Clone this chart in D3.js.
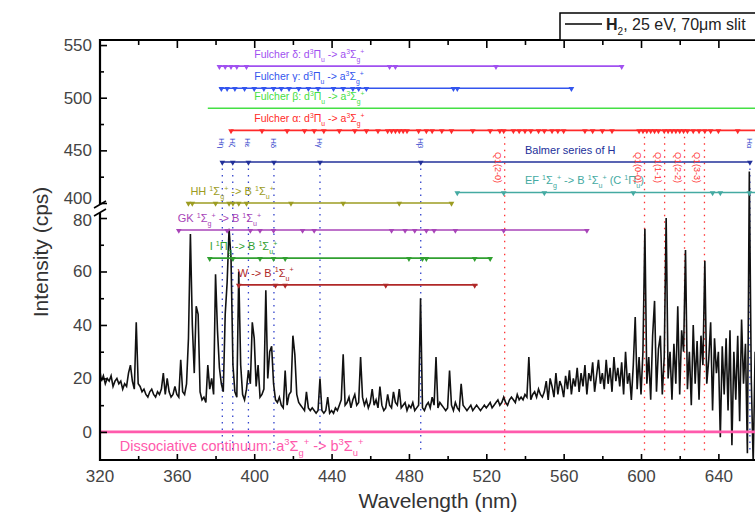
<!DOCTYPE html>
<html><head><meta charset="utf-8">
<script src="https://cdn.jsdelivr.net/npm/d3@7"></script>
<style>
body{margin:0;background:#fff}
svg{display:block}
text{font-family:"Liberation Sans",Arial,sans-serif}
</style></head>
<body><svg id="c" width="755" height="513"></svg>
<script>
// ---------- DATA ----------
const wavelengths = d3.range(320, 661, 1); // nm, 1 nm steps
const intensity = [
 24,19,21,18,20,19,21,17,19,20,   // 320
 18,19,16,18,17,22,25,19,16,41,   // 330
 18,17,15,16,14,13,15,16,14,13,   // 340
 15,14,16,22,14,20,15,13,14,17,   // 350
 14,13,27,15,14,18,35,74,40,22,   // 360
 47,44,15,12,13,11,25,16,20,14,   // 370
 59,38,24,18,15,44,56,76,65,25,   // 380
 15,13,60,25,14,12,16,23,18,41,   // 390
 35,17,25,13,14,16,53,20,30,32,   // 400
 18,12,11,13,10,9,23,10,14,15,    // 410
 36,29,14,11,10,9,8,15,9,8,       // 420
 9,8,7,8,20,8,7,8,13,7,           // 430
 8,7,9,8,10,12,29,10,11,13,       // 440
 9,12,14,10,11,28,13,10,12,9,     // 450
 11,16,10,12,9,17,10,8,9,14,      // 460
 10,9,15,11,10,16,9,10,11,8,      // 470
 10,9,11,8,9,10,50,9,8,10,        // 480
 11,9,13,10,28,9,11,10,9,8,       // 490
 9,23,10,8,11,9,8,18,10,9,        // 500
 8,9,10,8,9,10,9,8,9,10,          // 510
 9,10,11,9,10,11,12,10,11,13,     // 520
 11,10,12,13,12,11,14,12,13,12,   // 530
 14,13,28,12,14,15,13,16,14,13,   // 540
 15,19,12,20,17,13,22,14,19,17,   // 550
 13,21,16,23,14,20,17,24,15,22,   // 560
 17,25,14,22,19,26,15,21,27,18,   // 570
 22,16,27,18,24,15,28,19,24,17,   // 580
 26,14,30,18,22,12,25,43,16,28,   // 590
 14,30,76,18,28,12,36,49,15,31,   // 600
 36,14,28,80,20,30,12,33,18,47,   // 610
 14,38,30,68,16,30,10,40,18,34,   // 620
 12,36,25,64,18,27,41,8,35,22,    // 630
 30,-2,32,14,35,8,38,-5,30,12,    // 640
 36,4,42,18,33,-8,430,20,-12,30,  // 650
 25                               // 660
];

const xMajorTicks = [320,360,400,440,480,520,560,600,640];
const xMinorTicks = [340,380,420,460,500,540,580,620,660];
const yLowTicks = [0,20,40,60,80];
const yLowMinor = [10,30,50,70];
const yUpTicks = [400,450,500,550];
const yUpMinor = [425,475,525];

// band annotation lines
const bandLabels = [
 "Fulcher δ: d^{3}Π_{u} -> a^{3}Σ_{g}^{+}",
 "Fulcher γ: d^{3}Π_{u} -> a^{3}Σ_{g}^{+}",
 "Fulcher β: d^{3}Π_{u} -> a^{3}Σ_{g}^{+}",
 "Fulcher α: d^{3}Π_{u} -> a^{3}Σ_{g}^{+}",
 "Balmer series of H",
 "EF ^{1}Σ_{g}^{+} -> B ^{1}Σ_{u}^{+} (C ^{1}Π_{u})",
 "HH ^{1}Σ_{g}^{+} -> B ^{1}Σ_{u}^{+}",
 "GK ^{1}Σ_{g}^{+} -> B ^{1}Σ_{u}^{+}",
 "I ^{1}Π_{g} -> B ^{1}Σ_{u}^{+}",
 "W -> B ^{1}Σ_{u}^{+}",
 "Dissociative continuum: a^{3}Σ_{g}^{+} -> b^{3}Σ_{u}^{+}"
];
const bandLevel = [530, 509, 490, 469, 439, 410, 400, 75.5, 65, 55, 0];
const bandStart = [381.5, 382, 376, 388, 383.5, 505, 366, 361, 377, 392, 320];
const bandEnd   = [590, 564, 700, 700, 656.3, 700, 502, 572, 522.5, 515.5, 700];
const bandLabelAt = [400, 400, 400, 400, 540, 540, 367, 360.5, 377, 391.5, 330.5];
const bandColors = ["#a050f0","#3355ee","#44e044","#ff2a2a","#22309a","#44aaa2","#9c9c22","#a844b8","#30a030","#b02828","#ff5aac"];
const bandMarkers = [
 [382,385,388,391,396,470,473,525,590],
 [383,386,390,395,400,405,410,414,418,423,428,433,441,446,451,454,458,503,505,564],
 [],
 [388,404,417,426,431,436,444,452,458,464,469,471,473,475,477,479,485,489,492,497,502,513,522,527,529,534,537,540,543,547,550,554,557,560,571,575,580,585,599,601,603,605,607,609,612,614,616,618,620,622,624,627,630,633,636,640,650],
 [383.5,388.9,397.0,410.2,434.0,486.1,656.3],
 [505,529,550,596,637,641,656],
 [366,368,380,387,389,392,396,419,446,475,502],
 [361,386,398,403,410,425,431,471,478,483,489,493,504,529,572],
 [377,389,403,410,416,480,487,489,514,522],
 [392,411,416,468,514],
 []
];

// Balmer lines (vertical blue dotted) and Fulcher-α Q lines (vertical red dotted)
const balmerWl = [383.5, 388.9, 397.0, 410.2, 434.0, 486.1, 656.3];
const balmerNames = ["Hη","Hζ","Hε","Hδ","Hγ","Hβ","Hα"];
const fulcherQWl = [529.5, 601.8, 612.2, 622.5, 632.8];
const fulcherQNames = ["Q1(2-0)","Q1(0-0)","Q1(1-1)","Q1(2-2)","Q1(3-3)"];

// ---------- SCALES ----------
const svg = d3.select("#c");
const L = 100, R = 755, T = 40, B = 460;
const x = d3.scaleLinear().domain([320, 680]).range([99.5, 99.5 + 360 * 1.934]);
const yLo = d3.scaleLinear().domain([-10.5, 81.5]).range([460, 214]);
const yUp = d3.scaleLinear().domain([400, 555]).range([203, 39.8]);
const yMap = v => v > 200 ? yUp(v) : yLo(v);

svg.append("defs").append("clipPath").attr("id","clip")
  .append("rect").attr("x", L).attr("y", T).attr("width", R - L).attr("height", B - T);
const plot = svg.append("g").attr("clip-path","url(#clip)");

// rich text helper: ^{..} superscript, _{..} subscript
function rich(g, str, px, py, size, color) {
  const t = g.append("text").attr("x", px).attr("y", py).attr("font-size", size).attr("fill", color);
  const re = /([_^])\{([^}]*)\}/g;
  let last = 0, m, shift = 0;
  const add = (s, mode) => {
    if (!s) return;
    const target = mode === "sub" ? size * 0.35 : mode === "sup" ? -size * 0.4 : 0;
    const ts = t.append("tspan").text(s).attr("dy", target - shift);
    if (mode) ts.attr("font-size", size * 0.65);
    shift = target;
  };
  while ((m = re.exec(str)) !== null) {
    add(str.slice(last, m.index), null);
    add(m[2], m[1] === "_" ? "sub" : "sup");
    last = re.lastIndex;
  }
  add(str.slice(last), null);
  return t;
}

// ---------- vertical dotted reference lines ----------
plot.selectAll(".bl").data(balmerWl).enter().append("line")
  .attr("x1", d => x(d)).attr("x2", d => x(d))
  .attr("y1", yUp(439)).attr("y2", B - 6)
  .attr("stroke", "#3344cc").attr("stroke-width", 1.3).attr("stroke-dasharray", "1.5,5");
plot.selectAll(".fl").data(fulcherQWl).enter().append("line")
  .attr("x1", d => x(d)).attr("x2", d => x(d))
  .attr("y1", yUp(469)).attr("y2", B - 6)
  .attr("stroke", "#ff3333").attr("stroke-width", 1.3).attr("stroke-dasharray", "1.5,5");

// ---------- spectrum ----------
const line = d3.line().x((d, i) => x(wavelengths[i])).y(d => yMap(d));
plot.append("path").datum(intensity).attr("d", line)
  .attr("fill", "none").attr("stroke", "#111").attr("stroke-width", 1.6).attr("stroke-linejoin", "miter");

// ---------- band lines ----------
bandLabels.forEach((lab, i) => {
  const yy = yMap(bandLevel[i]);
  const c = bandColors[i];
  plot.append("line").attr("x1", x(bandStart[i])).attr("x2", x(bandEnd[i]))
    .attr("y1", yy).attr("y2", yy).attr("stroke", c).attr("stroke-width", i === 10 ? 2.6 : 1.6);
  const tri = d3.symbol().type(d3.symbolTriangle).size(14);
  plot.selectAll(null).data(bandMarkers[i]).enter().append("path")
    .attr("d", tri).attr("transform", d => `translate(${x(d)},${yy + 0.5}) rotate(180)`)
    .attr("fill", c);
  if (i === 10) {
    rich(plot, lab, x(bandLabelAt[i]), yy + 19, 14.5, c);
  } else {
    const fs = i < 4 ? 10.5 : 11;
    rich(plot, lab, x(bandLabelAt[i]), yy - 8, fs, c);
  }
});

// rotated labels
balmerWl.forEach((w, i) => {
  plot.append("text").attr("transform", `translate(${x(w) - 3},${138}) rotate(90)`)
    .attr("font-size", 8).attr("fill", "#3344cc").text(balmerNames[i]);
});
fulcherQWl.forEach((w, i) => {
  plot.append("text").attr("transform", `translate(${x(w) - 10},${152}) rotate(90)`)
    .attr("font-size", 9).attr("fill", "#ff3333").text(fulcherQNames[i]);
});

// ---------- axes ----------
function styleAxis(g) {
  g.select(".domain").remove();
  g.selectAll(".tick line").attr("stroke", "#000").attr("stroke-width", 1.6);
  g.selectAll(".tick text").attr("font-size", 17).attr("fill", "#444")
    .attr("font-family", '"Liberation Sans",Arial,sans-serif');
}
svg.append("g").attr("transform", `translate(0,${B})`)
  .call(d3.axisBottom(x).tickValues(xMajorTicks).tickSize(-6).tickPadding(10).tickFormat(d3.format("d"))).call(styleAxis);
svg.append("g").attr("transform", `translate(0,${B})`)
  .call(d3.axisBottom(x).tickValues(xMinorTicks).tickSize(-4).tickFormat("")).call(styleAxis);
svg.append("g").attr("transform", `translate(0,${T})`)
  .call(d3.axisTop(x).tickValues(xMajorTicks).tickSize(-8).tickFormat("")).call(styleAxis);
svg.append("g").attr("transform", `translate(0,${T})`)
  .call(d3.axisTop(x).tickValues(xMinorTicks).tickSize(-5).tickFormat("")).call(styleAxis);

const gLo = svg.append("g").attr("transform", `translate(${L},0)`)
  .call(d3.axisLeft(yLo).tickValues(yLowTicks).tickSize(-7).tickPadding(8).tickFormat(d3.format("d"))).call(styleAxis);
svg.append("g").attr("transform", `translate(${L},0)`)
  .call(d3.axisLeft(yLo).tickValues(yLowMinor).tickSize(-4).tickFormat("")).call(styleAxis);
const gUp = svg.append("g").attr("transform", `translate(${L},0)`)
  .call(d3.axisLeft(yUp).tickValues(yUpTicks).tickSize(-7).tickPadding(8).tickFormat(d3.format("d"))).call(styleAxis);
svg.append("g").attr("transform", `translate(${L},0)`)
  .call(d3.axisLeft(yUp).tickValues(yUpMinor).tickSize(-4).tickFormat("")).call(styleAxis);
// nudge the two labels at the axis break apart
gUp.selectAll(".tick").filter(d => d === 400).select("text").attr("y", -5);
gLo.selectAll(".tick").filter(d => d === 80).select("text").attr("y", 2);

// frame lines
svg.append("line").attr("x1", L).attr("x2", R).attr("y1", B).attr("y2", B).attr("stroke", "#000").attr("stroke-width", 2.2);
svg.append("line").attr("x1", L).attr("x2", R).attr("y1", T).attr("y2", T).attr("stroke", "#000").attr("stroke-width", 2.2);
svg.append("line").attr("x1", L).attr("x2", L).attr("y1", T - 1).attr("y2", 205).attr("stroke", "#000").attr("stroke-width", 2.2);
svg.append("line").attr("x1", L).attr("x2", L).attr("y1", 213).attr("y2", B + 1).attr("stroke", "#000").attr("stroke-width", 2.2);
// axis break marks
svg.append("line").attr("x1", L - 6).attr("x2", L + 6).attr("y1", 208).attr("y2", 201).attr("stroke", "#000").attr("stroke-width", 1.6);
svg.append("line").attr("x1", L - 6).attr("x2", L + 6).attr("y1", 216).attr("y2", 209).attr("stroke", "#000").attr("stroke-width", 1.6);

// axis titles
svg.append("text").attr("x", 438).attr("y", 508).attr("text-anchor", "middle")
  .attr("font-size", 21).attr("fill", "#333").text("Wavelength (nm)");
svg.append("text").attr("transform", "translate(48,252) rotate(-90)").attr("text-anchor", "middle")
  .attr("font-size", 21).attr("fill", "#333").text("Intensity (cps)");

// legend
svg.append("rect").attr("x", 560).attr("y", 13).attr("width", 260).attr("height", 27)
  .attr("fill", "#fff").attr("stroke", "#000").attr("stroke-width", 1.5);
svg.append("line").attr("x1", 565).attr("x2", 602).attr("y1", 24).attr("y2", 24).attr("stroke", "#000").attr("stroke-width", 1.5);
const lg = svg.append("text").attr("x", 606).attr("y", 30).attr("font-size", 16).attr("fill", "#222");
lg.append("tspan").attr("font-weight", "bold").text("H");
lg.append("tspan").attr("font-size", 10).attr("dy", 5).text("2");
lg.append("tspan").attr("dy", -5).text(", 25 eV, 70μm slit");
</script></body></html>
